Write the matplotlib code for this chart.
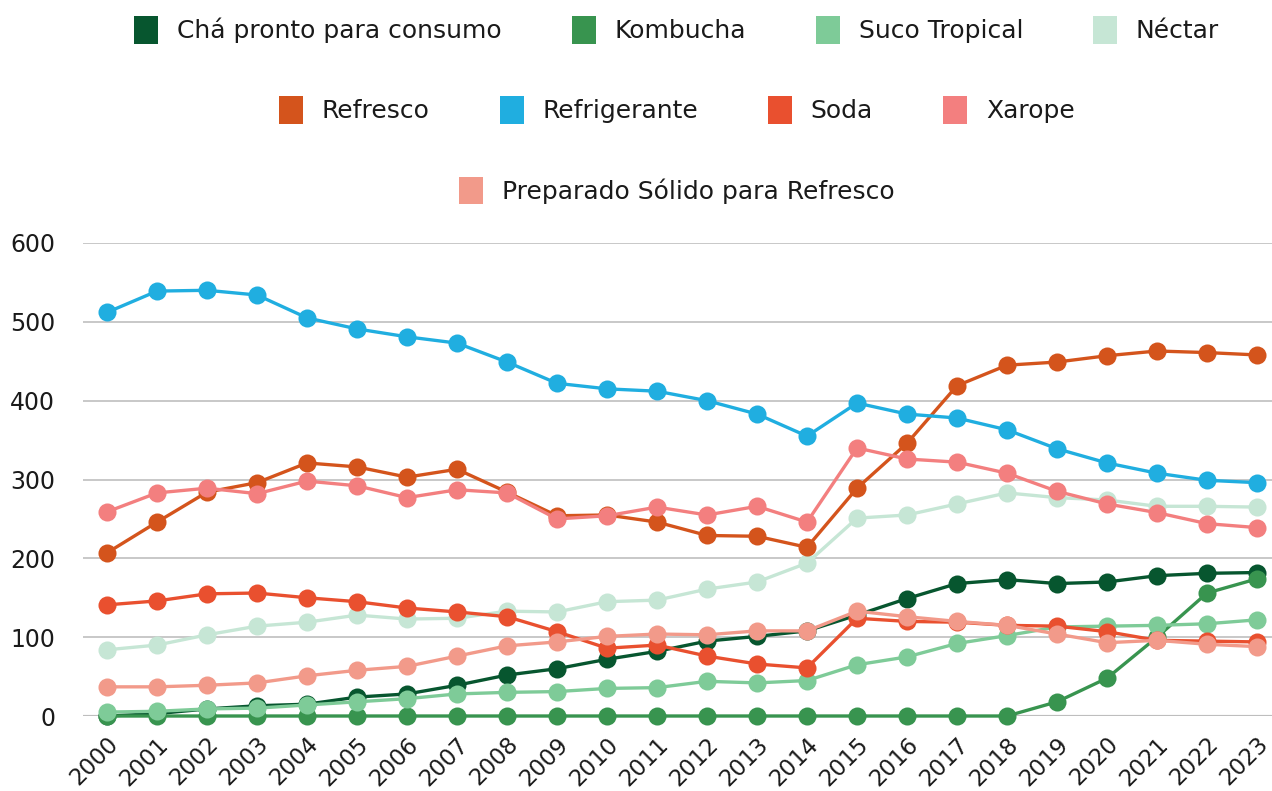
import numpy as np
import matplotlib.pyplot as plt
from matplotlib.patches import Patch

years = np.arange(2000, 2024)

cha_pronto = [0, 3, 9, 13, 15, 24, 28, 39, 52, 60, 72, 82, 95, 101, 108, 128,
              149, 168, 173, 168, 170, 178, 181, 182]
kombucha = [0, 0, 0, 0, 0, 0, 0, 0, 0, 0, 0, 0, 0, 0, 0, 0,
            0, 0, 0, 18, 48, 100, 156, 174]
suco_tropical = [5, 6, 9, 10, 14, 18, 22, 28, 30, 31, 35, 36, 44, 42, 45, 65,
                 75, 92, 102, 113, 114, 115, 117, 122]
nectar = [84, 90, 103, 114, 119, 128, 123, 124, 133, 132, 145, 147, 161, 170, 194, 251,
          255, 269, 283, 277, 274, 266, 266, 265]
refresco = [207, 246, 284, 296, 321, 316, 303, 313, 284, 254, 255, 246, 229, 228, 214, 289,
            346, 419, 445, 449, 457, 463, 461, 458]
refrigerante = [512, 539, 540, 534, 505, 491, 481, 473, 449, 422, 415, 412, 400, 383, 355, 397,
                383, 378, 363, 339, 321, 308, 299, 296]
soda = [141, 146, 155, 156, 150, 145, 137, 132, 126, 107, 86, 90, 76, 66, 61, 124,
        120, 119, 115, 114, 107, 96, 95, 94]
xarope = [259, 283, 289, 282, 298, 292, 277, 287, 283, 250, 254, 265, 255, 266, 246, 340,
          326, 322, 308, 285, 269, 258, 244, 239]
preparado = [37, 37, 39, 42, 51, 58, 63, 76, 89, 94, 101, 104, 103, 108, 108, 133,
             126, 120, 115, 104, 93, 96, 91, 88]

names = ["Chá pronto para consumo", "Kombucha", "Suco Tropical", "Néctar",
         "Refresco", "Refrigerante", "Soda", "Xarope", "Preparado Sólido para Refresco"]
series = [cha_pronto, kombucha, suco_tropical, nectar, refresco, refrigerante,
          soda, xarope, preparado]
colors = ["#07562f", "#38944f", "#7ecb98", "#c6e6d5", "#d4541c", "#20aee0",
          "#e9502f", "#f37f7f", "#f29a8a"]

plt.rcParams['font.family'] = ['DejaVu Sans']
txt = "#1a1a1a"

fig = plt.figure(figsize=(12.72, 7.91), dpi=100)
ax = fig.add_axes([0.0653, 0.0948, 0.9347, 0.598])

for i, (vals, c) in enumerate(zip(series, colors)):
    ax.plot(years, vals, color=c, lw=2.4, marker='o', markersize=13,
            markeredgewidth=0, clip_on=False, zorder=3 + i)

ax.set_xlim(1999.52, 2023.3)
ax.set_ylim(0, 600)
ax.set_yticks([0, 100, 200, 300, 400, 500, 600])
ax.set_xticks(years)
ax.set_xticklabels([str(y) for y in years], rotation=45, ha='right',
                   rotation_mode='anchor', fontsize=16.5, color=txt)
ax.tick_params(axis='y', labelsize=17, colors=txt, length=0, pad=20)
ax.tick_params(axis='x', length=0, pad=12)
ax.grid(axis='y', color='#c4c4c4', lw=1.3, zorder=0)
ax.axhline(0, color='#8a8a8a', lw=1.5, zorder=1)
for s in ax.spines.values():
    s.set_visible(False)

rows = [(0, 4, 0.962), (4, 8, 0.861), (8, 9, 0.759)]
for a, b, ypos in rows:
    handles = [Patch(facecolor=colors[k], edgecolor='none') for k in range(a, b)]
    leg = fig.legend(handles, names[a:b], loc='center', bbox_to_anchor=(0.532, ypos),
                     ncol=b - a, frameon=False, fontsize=18, handlelength=0.96,
                     handleheight=1.3, handletextpad=0.75, columnspacing=2.8)
    for t in leg.get_texts():
        t.set_color(txt)

fig.savefig("out.png", dpi=100)
